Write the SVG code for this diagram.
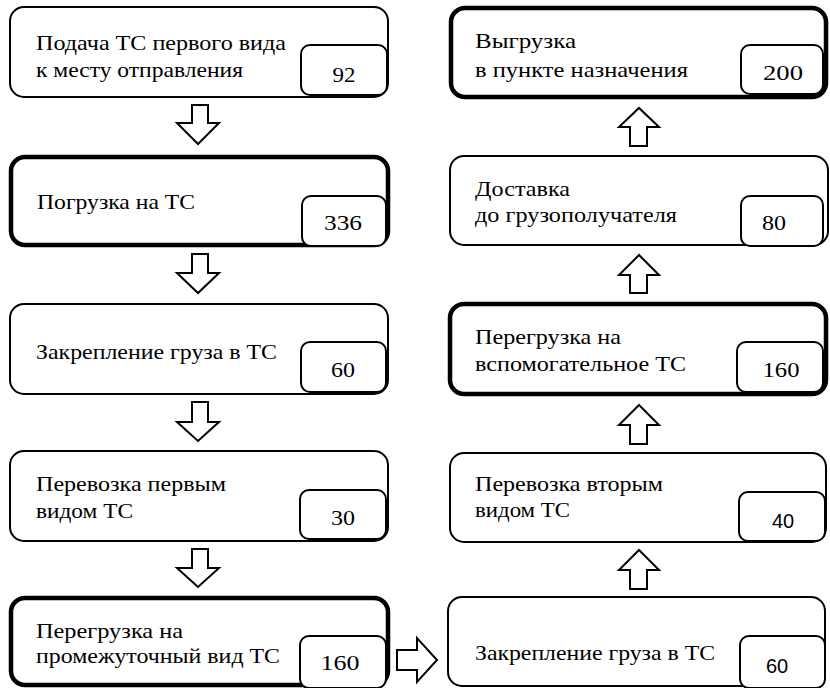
<svg xmlns="http://www.w3.org/2000/svg" width="830" height="688" viewBox="0 0 830 688">
<g id="connectors" fill="#fff" stroke="#000" stroke-width="2" stroke-linejoin="miter">
<path d="M192,105 H208 V123 H219 L198,144 L177,123 H192 Z"/>
<path d="M192,254 H208 V273 H219 L198,293 L177,273 H192 Z"/>
<path d="M192,402 H208 V422 H219 L198,441 L177,422 H192 Z"/>
<path d="M192,549 H208 V568 H219 L198,587 L177,568 H192 Z"/>
<path d="M397,650 V670 H417 V682 L437,660 L417,638 V650 Z"/>
<path d="M630,589 H647 V570 H659 L639,550 L619,570 H630 Z"/>
<path d="M630,444 H647 V425 H659 L639,405 L619,425 H630 Z"/>
<path d="M630,293 H647 V275 H659 L639,255 L619,275 H630 Z"/>
<path d="M630,146 H647 V127 H659 L639,108 L619,127 H630 Z"/>
</g>
<g id="n1">
<rect fill="#fff" stroke="#000" stroke-width="2" x="10" y="7" width="378" height="90" rx="14"/>
<rect fill="#fff" stroke="#000" stroke-width="2" x="301" y="45" width="86" height="50" rx="9"/>
<text font-family="Liberation Serif" font-size="22" x="36" y="50" textLength="250" lengthAdjust="spacingAndGlyphs">Подача ТС первого вида</text>
<text font-family="Liberation Serif" font-size="22" x="36" y="77" textLength="207" lengthAdjust="spacingAndGlyphs">к месту отправления</text>
<text font-family="Liberation Serif" font-size="22" x="344" y="82" text-anchor="middle" textLength="23" lengthAdjust="spacingAndGlyphs">92</text>
</g>
<g id="n2">
<rect fill="#fff" stroke="#000" stroke-width="4.5" x="11" y="157" width="377" height="88" rx="14"/>
<rect fill="#fff" stroke="#000" stroke-width="2" x="302" y="196" width="84" height="50" rx="9"/>
<text font-family="Liberation Serif" font-size="22" x="37" y="209" textLength="158" lengthAdjust="spacingAndGlyphs">Погрузка на ТС</text>
<text font-family="Liberation Serif" font-size="22" x="343" y="230" text-anchor="middle" textLength="38" lengthAdjust="spacingAndGlyphs">336</text>
</g>
<g id="n3">
<rect fill="#fff" stroke="#000" stroke-width="2" x="10" y="304" width="378" height="90" rx="14"/>
<rect fill="#fff" stroke="#000" stroke-width="2" x="301" y="342" width="85" height="50" rx="9"/>
<text font-family="Liberation Serif" font-size="22" x="36" y="359" textLength="241" lengthAdjust="spacingAndGlyphs">Закрепление груза в ТС</text>
<text font-family="Liberation Serif" font-size="22" x="343" y="377" text-anchor="middle" textLength="24" lengthAdjust="spacingAndGlyphs">60</text>
</g>
<g id="n4">
<rect fill="#fff" stroke="#000" stroke-width="2" x="10" y="451" width="378" height="90" rx="14"/>
<rect fill="#fff" stroke="#000" stroke-width="2" x="300" y="490" width="86" height="49" rx="9"/>
<text font-family="Liberation Serif" font-size="22" x="36" y="491" textLength="190" lengthAdjust="spacingAndGlyphs">Перевозка первым</text>
<text font-family="Liberation Serif" font-size="22" x="36" y="518" textLength="97" lengthAdjust="spacingAndGlyphs">видом ТС</text>
<text font-family="Liberation Serif" font-size="22" x="343" y="525" text-anchor="middle" textLength="24" lengthAdjust="spacingAndGlyphs">30</text>
</g>
<g id="n5">
<rect fill="#fff" stroke="#000" stroke-width="4.5" x="11" y="598" width="377" height="87" rx="14"/>
<rect fill="#fff" stroke="#000" stroke-width="2" x="300" y="636" width="86" height="52" rx="9"/>
<text font-family="Liberation Serif" font-size="22" x="36" y="638" textLength="147" lengthAdjust="spacingAndGlyphs">Перегрузка на</text>
<text font-family="Liberation Serif" font-size="22" x="36" y="663" textLength="244" lengthAdjust="spacingAndGlyphs">промежуточный вид ТС</text>
<text font-family="Liberation Serif" font-size="22" x="340" y="670" text-anchor="middle" textLength="39" lengthAdjust="spacingAndGlyphs">160</text>
</g>
<g id="r5">
<rect fill="#fff" stroke="#000" stroke-width="2" x="448" y="597" width="377" height="89" rx="14"/>
<rect fill="#fff" stroke="#000" stroke-width="2" x="740" y="636" width="85" height="52" rx="9"/>
<text font-family="Liberation Serif" font-size="22" x="475" y="660" textLength="240" lengthAdjust="spacingAndGlyphs">Закрепление груза в ТС</text>
<text font-family="Liberation Sans" font-size="20" x="777" y="673" text-anchor="middle">60</text>
</g>
<g id="r4">
<rect fill="#fff" stroke="#000" stroke-width="2" x="450" y="453" width="376" height="89" rx="14"/>
<rect fill="#fff" stroke="#000" stroke-width="2" x="739" y="492" width="86" height="49" rx="9"/>
<text font-family="Liberation Serif" font-size="22" x="475" y="491" textLength="188" lengthAdjust="spacingAndGlyphs">Перевозка вторым</text>
<text font-family="Liberation Serif" font-size="22" x="475" y="517" textLength="95" lengthAdjust="spacingAndGlyphs">видом ТС</text>
<text font-family="Liberation Sans" font-size="20" x="783" y="528" text-anchor="middle">40</text>
</g>
<g id="r3">
<rect fill="#fff" stroke="#000" stroke-width="4.5" x="450" y="304" width="376" height="90" rx="14"/>
<rect fill="#fff" stroke="#000" stroke-width="2" x="737" y="342" width="86" height="50" rx="9"/>
<text font-family="Liberation Serif" font-size="22" x="475" y="344" textLength="146" lengthAdjust="spacingAndGlyphs">Перегрузка на</text>
<text font-family="Liberation Serif" font-size="22" x="475" y="371" textLength="211" lengthAdjust="spacingAndGlyphs">вспомогательное ТС</text>
<text font-family="Liberation Serif" font-size="22" x="781" y="377" text-anchor="middle" textLength="37" lengthAdjust="spacingAndGlyphs">160</text>
</g>
<g id="r2">
<rect fill="#fff" stroke="#000" stroke-width="2" x="450" y="156" width="378" height="89" rx="14"/>
<rect fill="#fff" stroke="#000" stroke-width="2" x="741" y="196" width="82" height="50" rx="9"/>
<text font-family="Liberation Serif" font-size="22" x="475" y="196" textLength="95" lengthAdjust="spacingAndGlyphs">Доставка</text>
<text font-family="Liberation Serif" font-size="22" x="475" y="222" textLength="202" lengthAdjust="spacingAndGlyphs">до грузополучателя</text>
<text font-family="Liberation Serif" font-size="22" x="774" y="230" text-anchor="middle" textLength="24" lengthAdjust="spacingAndGlyphs">80</text>
</g>
<g id="r1">
<rect fill="#fff" stroke="#000" stroke-width="4.5" x="451" y="8" width="375" height="89" rx="14"/>
<rect fill="#fff" stroke="#000" stroke-width="2" x="741" y="45" width="82" height="49" rx="9"/>
<text font-family="Liberation Serif" font-size="22" x="475" y="48" textLength="101" lengthAdjust="spacingAndGlyphs">Выгрузка</text>
<text font-family="Liberation Serif" font-size="22" x="475" y="77" textLength="213" lengthAdjust="spacingAndGlyphs">в пункте назначения</text>
<text font-family="Liberation Serif" font-size="22" x="783" y="80" text-anchor="middle" textLength="40" lengthAdjust="spacingAndGlyphs">200</text>
</g>
</svg>
